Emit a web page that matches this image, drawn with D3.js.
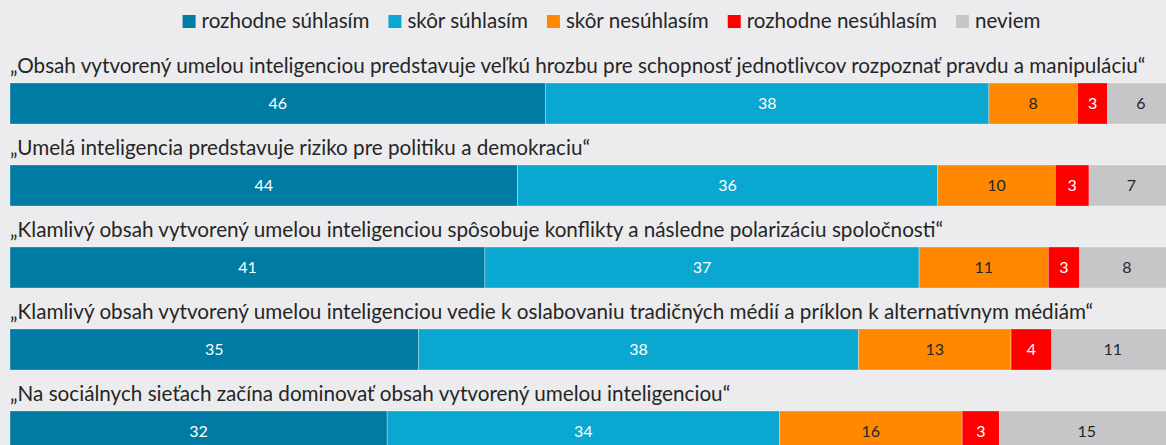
<!DOCTYPE html>
<html><head><meta charset="utf-8">
<script src="https://cdn.jsdelivr.net/npm/d3@7"></script>
<style>
html,body{margin:0;padding:0;background:#ececee;overflow:hidden}
text{font-family:Lato,"Open Sans",sans-serif}
</style></head>
<body><svg id="chart" width="1166" height="445"></svg>
<script>
const categories = [
  "„Obsah vytvorený umelou inteligenciou predstavuje veľkú hrozbu pre schopnosť jednotlivcov rozpoznať pravdu a manipuláciu“",
  "„Umelá inteligencia predstavuje riziko pre politiku a demokraciu“",
  "„Klamlivý obsah vytvorený umelou inteligenciou spôsobuje konflikty a následne polarizáciu spoločnosti“",
  "„Klamlivý obsah vytvorený umelou inteligenciou vedie k oslabovaniu tradičných médií a príklon k alternatívnym médiám“",
  "„Na sociálnych sieťach začína dominovať obsah vytvorený umelou inteligenciou“"
];
const seriesNames = ["rozhodne súhlasím","skôr súhlasím","skôr nesúhlasím","rozhodne nesúhlasím","neviem"];
const rozhodneSuhlasim   = [46.0, 43.6, 40.8, 35.1, 32.4];
const skorSuhlasim       = [38.1, 36.1, 37.3, 37.8, 33.7];
const skorNesuhlasim     = [7.6, 10.1, 11.1, 13.1, 15.7];
const rozhodneNesuhlasim = [2.6, 2.9, 2.7, 3.5, 3.2];
const neviem             = [5.7, 7.3, 8.1, 10.5, 15.0];
const colors = ["#007ba3","#0aa8d0","#ff8800","#ff0000","#c6c6c8"];
const labelColors = ["#ffffff","#ffffff","#262626","#ffffff","#262626"];

const seriesValues = [rozhodneSuhlasim, skorSuhlasim, skorNesuhlasim, rozhodneNesuhlasim, neviem];
const rows = categories.map((c,i)=>{
  const o = {cat:c, idx:i};
  seriesNames.forEach((s,j)=>o[s]=seriesValues[j][i]);
  return o;
});
const stacked = d3.stack().keys(seriesNames)(rows);

const svg = d3.select("#chart");
const x = d3.scaleLinear().domain([0,100]).range([10,1174]);
const y = d3.scaleBand().domain(d3.range(categories.length)).range([83,452]).paddingInner(0.5).paddingOuter(0);

const textColor = "#262626";

// titles
const titles = svg.append("g").selectAll("text").data(categories).join("text")
  .attr("x",10).attr("y",(d,i)=>y(i)-10)
  .attr("fill",textColor).style("font-size","20px").text(d=>d);
// fit title size to reference width of the first title
const w0 = titles.nodes()[0].getComputedTextLength();
const tSize = 20*1136/w0;
titles.style("font-size",tSize+"px");

// bars
const g = svg.append("g");
stacked.forEach((s,j)=>{
  const sg = g.append("g");
  sg.selectAll("rect").data(s).join("rect")
    .attr("x",d=>x(d[0])).attr("width",d=>x(d[1])-x(d[0]))
    .attr("y",(d,i)=>y(i)).attr("height",y.bandwidth())
    .attr("fill",colors[j]).attr("stroke","#ffffff").attr("stroke-width",0.6).attr("stroke-opacity",0.5);
  sg.selectAll("text").data(s).join("text")
    .attr("x",d=>(x(d[0])+x(d[1]))/2).attr("y",(d,i)=>y(i)+y.bandwidth()/2)
    .attr("dy","0.36em").attr("text-anchor","middle")
    .attr("fill",labelColors[j]).style("font-size","16px")
    .text(d=>Math.round(d[1]-d[0]));
});

// legend
const lg = svg.append("g");
const items = lg.selectAll("g").data(seriesNames).join("g");
items.append("rect").attr("width",13).attr("height",13).attr("y",15).attr("fill",(d,i)=>colors[i]);
const lt = items.append("text").attr("x",19).attr("y",28).attr("fill",textColor).style("font-size","20px").text(d=>d);
const lw0 = lt.nodes()[0].getComputedTextLength();
const lSize = 20*168/lw0;
lt.style("font-size",lSize+"px");
let cx = 0; const pos=[];
lt.nodes().forEach((n,i)=>{pos.push(cx); cx += 19 + n.getComputedTextLength() + 19;});
const total = cx - 19;
const start = 611.5 - total/2;
items.attr("transform",(d,i)=>`translate(${start+pos[i]},0)`);
</script></body></html>
